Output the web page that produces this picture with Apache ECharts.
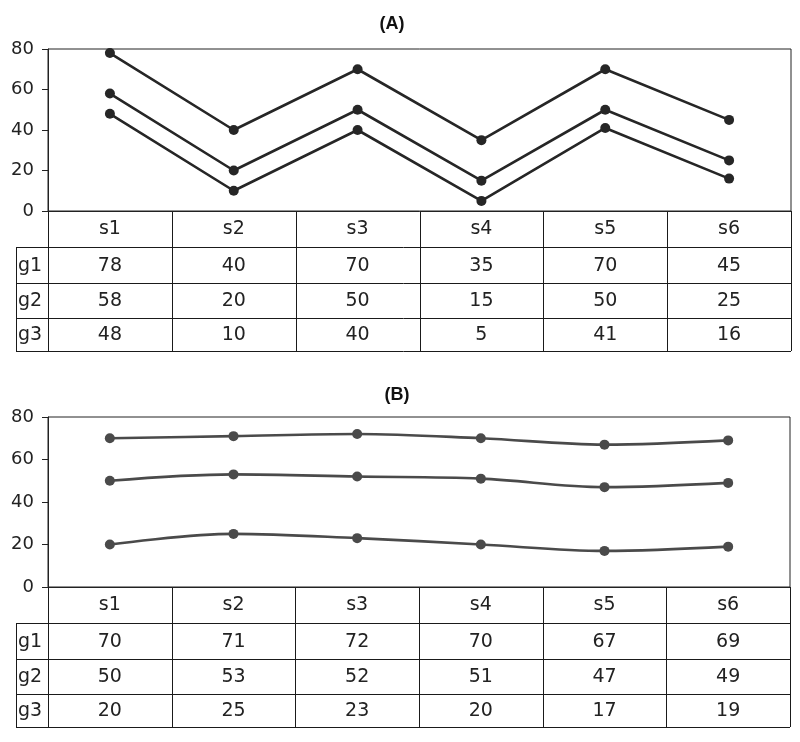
<!DOCTYPE html>
<html><head><meta charset="utf-8">
<script src="https://cdn.jsdelivr.net/npm/echarts@6/dist/echarts.min.js"></script>
<style>html,body{margin:0;padding:0;background:#fff}#c{width:800px;height:742px}</style>
</head><body><div id="c"></div>
<script>
// ---- data ----
const categories = ['s1', 's2', 's3', 's4', 's5', 's6'];
const groups = ['g1', 'g2', 'g3'];
const yTicks = [0, 20, 40, 60, 80];
const panelTitles = ['(A)', '(B)'];
const a_g1 = [78, 40, 70, 35, 70, 45];
const a_g2 = [58, 20, 50, 15, 50, 25];
const a_g3 = [48, 10, 40, 5, 41, 16];
const b_g1 = [70, 71, 72, 70, 67, 69];
const b_g2 = [50, 53, 52, 51, 47, 49];
const b_g3 = [20, 25, 23, 20, 17, 19];
const panelData = [[a_g1, a_g2, a_g3], [b_g1, b_g2, b_g3]];

// ---- layout / style ----
const FONT = 'DejaVu Sans';
const layout = [
  { top: 49, height: 162, right: 9, titleX: 392, titleY: 15, color: '#262626', smooth: false },
  { top: 417, height: 170, right: 10, titleX: 397, titleY: 386, color: '#4a4a4a', smooth: 0.35 }
];
const rowHeights = [36, 36, 35, 33]; // header, g1, g2, g3
const labelColLeft = 16;
const gridLeft = 48;

const chart = echarts.init(document.getElementById('c'), null, { renderer: 'canvas' });

const option = {
  backgroundColor: '#fff',
  animation: false,
  title: layout.map((L, k) => ({
    text: panelTitles[k], left: L.titleX, top: L.titleY, textAlign: 'center', padding: 0,
    textStyle: { fontFamily: 'Liberation Sans', fontWeight: 'bold', fontSize: 18, color: '#111' }
  })),
  grid: layout.map(L => ({
    left: gridLeft, right: L.right, top: L.top, height: L.height,
    show: true, borderColor: '#222', borderWidth: 1, backgroundColor: 'transparent'
  })),
  xAxis: layout.map((L, k) => ({
    type: 'category', gridIndex: k, data: categories, boundaryGap: true,
    axisLine: { show: true, lineStyle: { color: '#222', width: 1 } },
    axisTick: { show: false },
    axisLabel: { show: true, margin: 9, fontFamily: FONT, fontSize: 19, color: '#222' },
    splitLine: { show: false }
  })),
  yAxis: layout.map((L, k) => ({
    type: 'value', gridIndex: k, min: yTicks[0], max: yTicks[yTicks.length - 1], interval: yTicks[1] - yTicks[0],
    axisLine: { show: true, lineStyle: { color: '#222', width: 1 } },
    axisTick: { show: true, length: 6, lineStyle: { color: '#222' } },
    axisLabel: { margin: 14, fontFamily: FONT, fontSize: 18, color: '#222' },
    splitLine: { show: false }
  })),
  series: []
};
layout.forEach((L, k) => {
  panelData[k].forEach((vals, g) => {
    option.series.push({
      type: 'line', name: groups[g], xAxisIndex: k, yAxisIndex: k, data: vals,
      smooth: L.smooth, symbol: 'circle', symbolSize: 10,
      lineStyle: { color: L.color, width: 2.6 },
      itemStyle: { color: L.color }
    });
  });
});
chart.setOption(option);

// ---- data table built from the category axis scale ----
function buildTable() {
  const els = [];
  const lineStyle = { stroke: '#1a1a1a', lineWidth: 1 };
  layout.forEach((L, k) => {
    const centers = categories.map((c, i) => chart.convertToPixel({ xAxisIndex: k }, i));
    const band = centers.length > 1 ? centers[1] - centers[0] : 100;
    const bounds = [centers[0] - band / 2].concat(centers.map(c => c + band / 2));
    const yBase = chart.convertToPixel({ yAxisIndex: k }, yTicks[0]);
    const rowTops = [yBase];
    rowHeights.forEach(h => rowTops.push(rowTops[rowTops.length - 1] + h));
    const bottom = rowTops[rowTops.length - 1];
    const right = bounds[bounds.length - 1];
    // vertical column lines
    bounds.forEach(x => els.push({ type: 'line', shape: { x1: Math.round(x) + 0.5, y1: yBase, x2: Math.round(x) + 0.5, y2: bottom }, style: lineStyle, silent: true }));
    // left label column border
    els.push({ type: 'line', shape: { x1: labelColLeft + 0.5, y1: rowTops[1], x2: labelColLeft + 0.5, y2: bottom }, style: lineStyle, silent: true });
    // horizontal row lines
    for (let r = 1; r < rowTops.length; r++) {
      els.push({ type: 'line', shape: { x1: labelColLeft, y1: Math.round(rowTops[r]) + 0.5, x2: right, y2: Math.round(rowTops[r]) + 0.5 }, style: lineStyle, silent: true });
    }
    // row labels and values
    panelData[k].forEach((vals, g) => {
      const yMid = (rowTops[g + 1] + rowTops[g + 2]) / 2;
      els.push({ type: 'text', x: labelColLeft + 2, y: yMid + 1, silent: true,
        style: { text: groups[g], font: '19px "' + FONT + '"', fill: '#222', textAlign: 'left', textVerticalAlign: 'middle' } });
      vals.forEach((v, i) => {
        els.push({ type: 'text', x: centers[i], y: yMid + 1, silent: true,
          style: { text: String(v), font: '19px "' + FONT + '"', fill: '#222', textAlign: 'center', textVerticalAlign: 'middle' } });
      });
    });
  });
  chart.setOption({ graphic: els });
}
buildTable();
</script>
</body></html>
